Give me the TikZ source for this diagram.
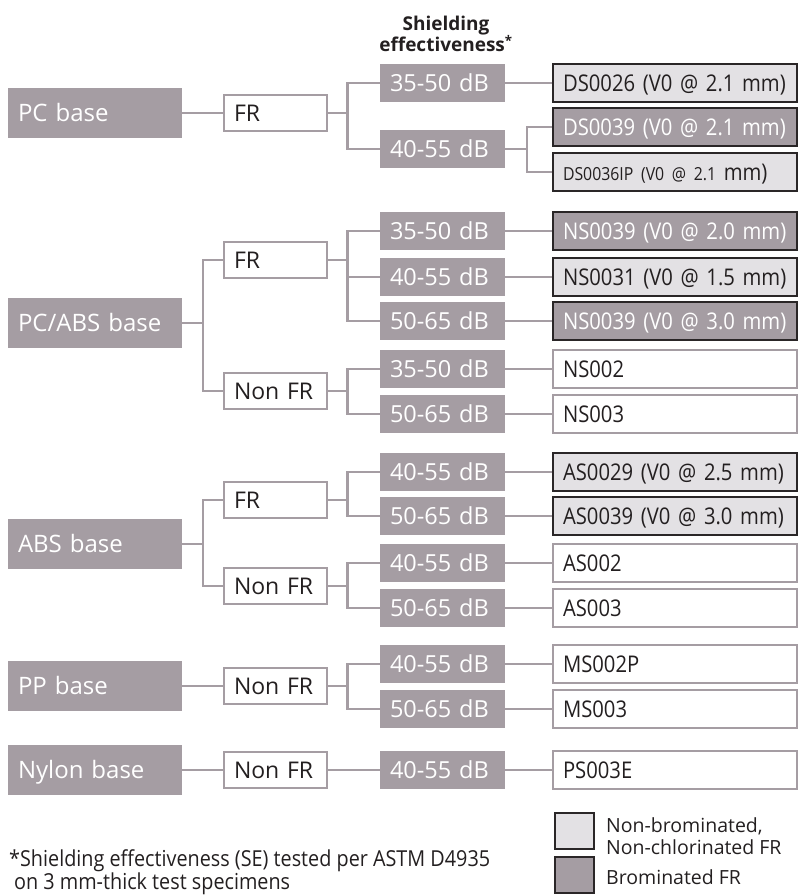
\documentclass[tikz,border=0pt]{standalone}
\usepackage{fontspec}
\setmainfont{Open Sans}
\newfontfamily\narrowfont[FakeStretch=0.9]{Open Sans}
\newfontfamily\gradefont[FakeStretch=0.88]{Open Sans}
\definecolor{BaseGray}{HTML}{A59DA3}
\definecolor{PaleGray}{HTML}{E3E1E4}
\definecolor{InkDark}{HTML}{2A2627}
\definecolor{TextDark}{HTML}{231F20}
\tikzset{
  resin/.style={fill=BaseGray,text=white,inner xsep=10pt,inner ysep=0pt,
    minimum height=50pt,text width=154pt,align=left,
    text height=17pt,text depth=0pt,font=\fontsize{24pt}{28pt}\selectfont},
  grade/.style={draw=BaseGray,line width=2pt,fill=white,text=TextDark,
    inner xsep=10pt,inner ysep=0pt,minimum height=36pt,text width=83pt,
    align=left,text height=17pt,text depth=0pt,
    font=\fontsize{23pt}{27pt}\selectfont},
  dbrange/.style={fill=BaseGray,text=white,inner xsep=10pt,inner ysep=0pt,
    minimum height=38pt,text width=105pt,align=left,
    text height=17pt,text depth=0pt,font=\fontsize{23.5pt}{27pt}\selectfont},
  product/.style={draw=BaseGray,line width=2pt,fill=white,text=TextDark,
    inner xsep=10pt,inner ysep=0pt,minimum height=38pt,text width=224pt,
    align=left,text height=16pt,text depth=0pt,
    font=\gradefont\fontsize{23pt}{27pt}\selectfont},
  nonbrom/.style={product,draw=InkDark,fill=PaleGray},
  brom/.style={product,draw=InkDark,fill=BaseGray,text=white},
  keybox/.style={draw=InkDark,line width=2pt,minimum width=39pt,
    minimum height=36pt,inner sep=0pt},
  keytext/.style={anchor=west,align=left,text=TextDark,inner sep=0pt,
    font=\fontsize{19.5pt}{22pt}\selectfont},
  link/.style={draw=BaseGray,line width=2.5pt}
}
\begin{document}
\begin{tikzpicture}[x=1pt,y=-1pt]
  \useasboundingbox (0,0) rectangle (799,895);
  \node[align=center,text=TextDark,inner sep=0pt,
    font=\bfseries\fontsize{19pt}{21pt}\selectfont] (setitle) at (446,34)
    {Shielding\\effectiveness\textsuperscript{*}};

  % base resins
  \node[resin] (pc) at (95,113) {PC base};
  \node[resin] (pcabs) at (95,323) {PC/ABS base};
  \node[resin] (abs) at (95,544) {ABS base};
  \node[resin] (pp) at (95,686) {PP base};
  \node[resin] (nylon) at (95,770) {Nylon base};

  % flame retardancy
  \node[grade] (fr1) at (275.5,113) {FR};
  \node[grade] (fr2) at (275.5,260) {FR};
  \node[grade] (nfr2) at (275.5,391) {Non FR};
  \node[grade] (fr3) at (275.5,500) {FR};
  \node[grade] (nfr3) at (275.5,586) {Non FR};
  \node[grade] (nfr4) at (275.5,686) {Non FR};
  \node[grade] (nfr5) at (275.5,770) {Non FR};

  % shielding ranges
  \foreach \n/\y/\lab in {r1a/83/35-50,r1b/149/40-55,
      r2a/231/35-50,r2b/277/40-55,r2c/321/50-65,r2d/369/35-50,r2e/414/50-65,
      r3a/472/40-55,r3b/516/50-65,r3c/563/40-55,r3d/608/50-65,
      r4a/664/40-55,r4b/709/50-65,r5a/770/40-55}
    \node[dbrange] (\n) at (442.5,\y) {\lab\ dB};

  % grades
  \foreach \n/\y/\sty/\lab in {p1a/83/nonbrom/DS0026 (V0 @ 2.1 mm),
      p1b/127/brom/DS0039 (V0 @ 2.1 mm),
      p2a/231/brom/NS0039 (V0 @ 2.0 mm),p2b/277/nonbrom/NS0031 (V0 @ 1.5 mm),
      p2c/321/brom/NS0039 (V0 @ 3.0 mm),p2d/369/product/NS002,
      p2e/414/product/NS003,
      p3a/472/nonbrom/AS0029 (V0 @ 2.5 mm),p3b/516/nonbrom/AS0039 (V0 @ 3.0 mm),
      p3c/563/product/AS002,p3d/608/product/AS003,
      p4a/664/product/MS002P,p4b/709/product/MS003,p5a/770/product/PS003E}
    \node[\sty] (\n) at (675,\y) {\lab};
  \node[nonbrom] (p1c) at (675,172)
    {{\fontsize{18pt}{21pt}\selectfont DS0036IP (V0 @ 2.1} mm)};

  % connectors
  \foreach \a/\b in {pc/fr1,nfr5/r5a,nylon/nfr5,pp/nfr4}
    \draw[link] (\a.east) -- (\b.west);
  \foreach \a/\b in {pcabs/fr2,pcabs/nfr2,abs/fr3,abs/nfr3}
    \draw[link] (\a.east) -- ++(21,0) |- (\b.west);
  \foreach \a/\b in {fr1/r1a,fr1/r1b,fr2/r2a,fr2/r2b,fr2/r2c,nfr2/r2d,nfr2/r2e,
      fr3/r3a,fr3/r3b,nfr3/r3c,nfr3/r3d,nfr4/r4a,nfr4/r4b}
    \draw[link] (\a.east) -- ++(19.5,0) |- (\b.west);
  \foreach \a/\b in {r1a/p1a,r2a/p2a,r2b/p2b,r2c/p2c,r2d/p2d,r2e/p2e,
      r3a/p3a,r3b/p3b,r3c/p3c,r3d/p3d,r4a/p4a,r4b/p4b,r5a/p5a}
    \draw[link] (\a.east) -- (\b.west);
  \draw[link] (r1b.east) -- ++(22,0) |- (p1b.west);
  \draw[link] (r1b.east) -- ++(22,0) |- (p1c.west);

  % legend
  \node[keybox,fill=PaleGray] (keynb) at (574,831) {};
  \node[keybox,fill=BaseGray] (keyb) at (574,875) {};
  \node[keytext] (keynbtxt) at (606,836) {Non-brominated,\\Non-chlorinated FR};
  \node[keytext] (keybtxt) at (606,877) {Brominated FR};

  \node[anchor=north west,align=left,inner sep=0pt,text=TextDark,
    font=\narrowfont\fontsize{22pt}{20pt}\selectfont] (fnote) at (9,849)
    {*Shielding effectiveness (SE) tested per ASTM D4935\\
     \hspace*{5pt}on 3 mm-thick test specimens};
\end{tikzpicture}
\end{document}
